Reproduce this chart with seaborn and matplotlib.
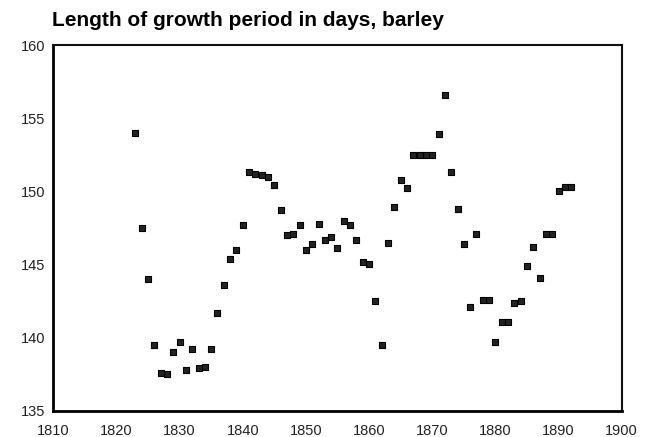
import numpy as np
import pandas as pd
import matplotlib
matplotlib.use("Agg")
import matplotlib.pyplot as plt
import seaborn as sns

# Values
years = [1823, 1824, 1825, 1826, 1827, 1828, 1829, 1830, 1831, 1832,
         1833, 1834, 1835, 1836, 1837, 1838, 1839, 1840, 1841, 1842,
         1843, 1844, 1845, 1846, 1847, 1848, 1849, 1850, 1851, 1852,
         1853, 1854, 1855, 1856, 1857, 1858, 1859, 1860, 1861, 1862,
         1863, 1864, 1865, 1866, 1867, 1868, 1869, 1870, 1871, 1872,
         1873, 1874, 1875, 1876, 1877, 1878, 1879, 1880, 1881, 1882,
         1883, 1884, 1885, 1886, 1887, 1888, 1889, 1890, 1891, 1892]
days = [154.0, 147.5, 144.0, 139.5, 137.6, 137.5, 139.0, 139.7, 137.8, 139.2,
        137.9, 138.0, 139.2, 141.7, 143.6, 145.4, 146.0, 147.7, 151.3, 151.2,
        151.1, 151.0, 150.4, 148.7, 147.0, 147.1, 147.7, 146.0, 146.4, 147.8,
        146.7, 146.9, 146.1, 148.0, 147.7, 146.7, 145.2, 145.0, 142.5, 139.5,
        146.5, 148.9, 150.8, 150.2, 152.5, 152.5, 152.5, 152.5, 153.9, 156.6,
        151.3, 148.8, 146.4, 142.1, 147.1, 142.6, 142.6, 139.7, 141.1, 141.1,
        142.4, 142.5, 144.9, 146.2, 144.1, 147.1, 147.1, 150.0, 150.3, 150.3]

x_ticks = [1810, 1820, 1830, 1840, 1850, 1860, 1870, 1880, 1890, 1900]
y_ticks = [135, 140, 145, 150, 155, 160]

df = pd.DataFrame({"year": years, "days": days})

sns.set_style("white")
plt.rcParams["font.family"] = ["Liberation Sans", "DejaVu Sans"]

fig = plt.figure(figsize=(6.49, 4.37), dpi=100)
ax = fig.add_axes([0.082, 0.060, 0.876, 0.837])

sns.scatterplot(data=df, x="year", y="days", marker="s", s=22,
                color="#222222", edgecolor="black", linewidth=0.8, ax=ax)

ax.set_xlim(1810, 1900)
ax.set_ylim(135, 160)
ax.set_xticks(x_ticks)
ax.set_yticks(y_ticks)
ax.set_yticks(np.arange(137.5, 160, 5), minor=True)
ax.set_xlabel("")
ax.set_ylabel("")
ax.tick_params(axis="both", which="both", direction="inout", length=5,
               width=0.8, color="#999999", labelsize=10.5, labelcolor="#222222")
ax.tick_params(axis="x", pad=7)
ax.tick_params(axis="y", pad=3)

for side in ["left", "bottom"]:
    ax.spines[side].set_linewidth(2.0)
    ax.spines[side].set_color("black")
for side in ["top", "right"]:
    ax.spines[side].set_linewidth(1.5)
    ax.spines[side].set_color("#111111")

fig.text(0.080, 0.952, "Length of growth period in days, barley",
         fontsize=15, fontweight="bold", color="black", ha="left", va="center")

fig.savefig("out.png", dpi=100)
